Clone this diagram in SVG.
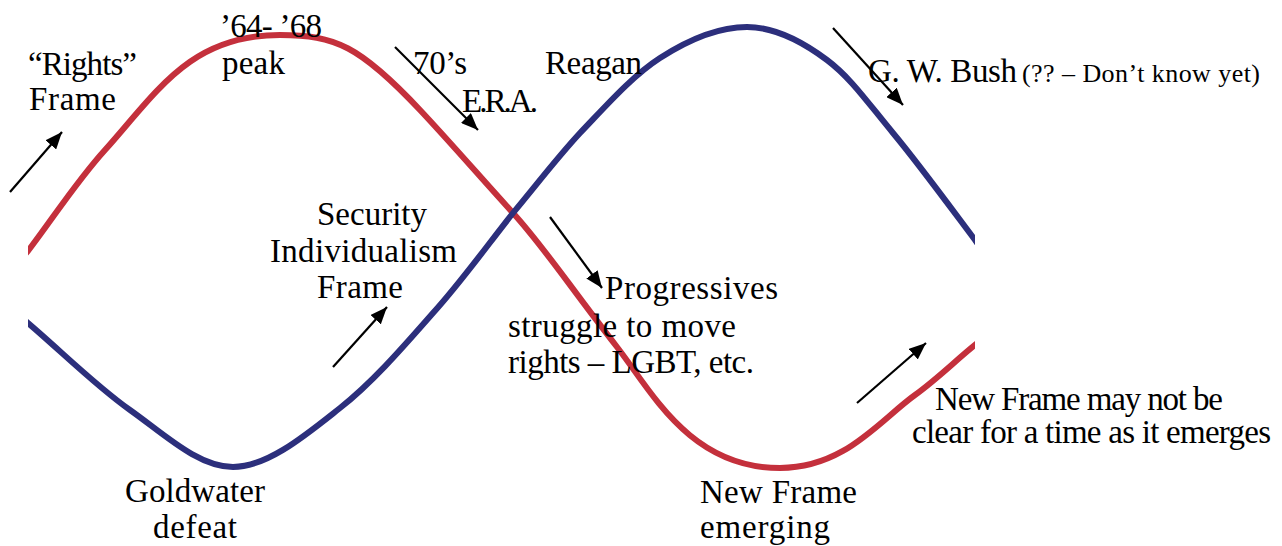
<svg xmlns="http://www.w3.org/2000/svg" width="1282" height="546" viewBox="0 0 1282 546">
<style>
.t{font-family:"Liberation Serif","Times New Roman",serif;font-size:33px;fill:#000}
.s{font-size:26px}
.wave{fill:none;stroke-width:6;stroke-linejoin:round}
.red{stroke:#c4303c}
.blue{stroke:#2c2f7c}
.arr{stroke:#000;stroke-width:2.2;fill:none;marker-end:url(#ah)}
</style>
<defs>
<marker id="ah" markerUnits="userSpaceOnUse" markerWidth="18" markerHeight="14" refX="17" refY="7" orient="auto">
<path d="M0,0 L17,7 L0,14 Z" fill="#000"/>
</marker>
<clipPath id="clip"><rect x="28" y="0" width="947" height="546"/></clipPath>
</defs>
<rect width="1282" height="546" fill="#fff"/>
<g id="waves" clip-path="url(#clip)">
<path id="red-wave" class="wave red" d="M20,260 L28,251 C54,217 76,182 105,150 C157,92 190,35 280,35 C335,35 360,46 420,110 C451,143 482,179 513,213 C544,247 565,280 617,347 C652,392 690,468 780,468 C845,468 880,420 915,395 C940,377 960,356 985,337"/>
<path id="blue-wave" class="wave blue" d="M20,316 L28,323 C62,352 96,386 130,410 C164,434 198,467 233,467 C268,467 307,434 340,408 C373,382 404,346 433,313 C462,281 489,243 513,213 C538,183 556,159 580,133 C605,107 632,76 660,58 C688,40 719,27 747,27 C775,27 803,42 827,60 C851,78 868,103 893,133 C918,163 948,204 975,240 L982,250"/>
</g>
<g id="connectors">
<line class="arr" x1="10" y1="192" x2="62" y2="132"/>
<line class="arr" x1="395" y1="47" x2="478" y2="130"/>
<line class="arr" x1="833" y1="28" x2="903" y2="105"/>
<line class="arr" x1="333" y1="367" x2="387" y2="307"/>
<line class="arr" x1="550" y1="217" x2="602" y2="288"/>
<line class="arr" x1="857" y1="403" x2="926" y2="343"/>
</g>
<g id="rights-frame"><text class="t" x="28" y="75" textLength="109">“Rights”</text><text class="t" x="29" y="110" textLength="87">Frame</text></g>
<g id="peak-64-68"><text class="t" x="220" y="37" textLength="102">’64- ’68</text><text class="t" x="222" y="74" textLength="63">peak</text></g>
<g id="seventies-era"><text class="t" x="413" y="74" textLength="54">70’s</text><text class="t" x="462" y="112" textLength="76">E.R.A.</text></g>
<g id="reagan"><text class="t" x="545" y="74" textLength="97">Reagan</text></g>
<g id="gw-bush"><text class="t" x="868" y="82" textLength="149">G. W. Bush</text><text class="t s" x="1022" y="82" textLength="238">(?? – Don’t know yet)</text></g>
<g id="security-frame"><text class="t" x="317" y="225" textLength="110">Security</text><text class="t" x="270" y="262" textLength="187">Individualism</text><text class="t" x="317" y="298" textLength="86">Frame</text></g>
<g id="progressives"><text class="t" x="605" y="299" textLength="173">Progressives</text><text class="t" x="508" y="337" textLength="228">struggle to move</text><text class="t" x="508" y="373" textLength="246">rights – LGBT, etc.</text></g>
<g id="new-frame-unclear"><text class="t" x="935" y="410" textLength="288">New Frame may not be</text><text class="t" x="912" y="443" textLength="359">clear for a time as it emerges</text></g>
<g id="goldwater"><text class="t" x="125" y="502" textLength="140">Goldwater</text><text class="t" x="153" y="538" textLength="84">defeat</text></g>
<g id="new-frame-emerging"><text class="t" x="700" y="503" textLength="157">New Frame</text><text class="t" x="700" y="538" textLength="130">emerging</text></g>
</svg>
